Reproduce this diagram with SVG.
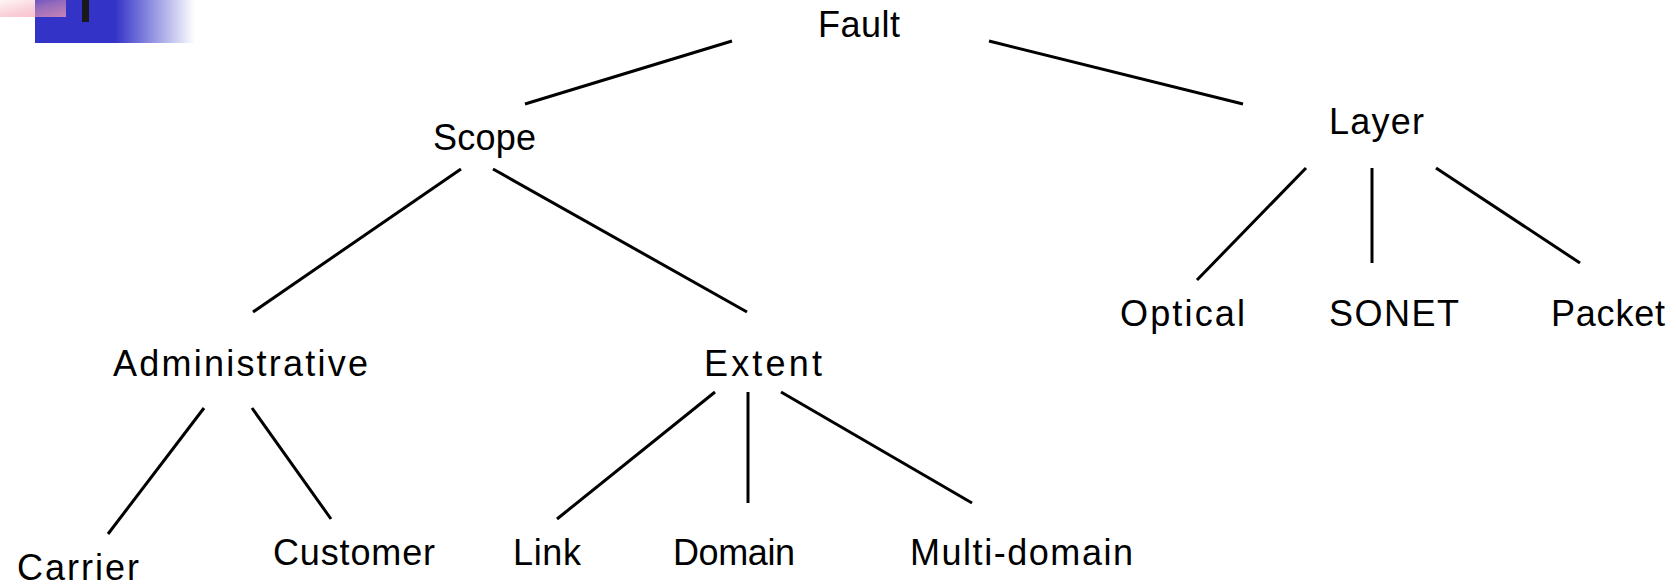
<svg xmlns="http://www.w3.org/2000/svg" width="1676" height="588" viewBox="0 0 1676 588">
  <style>
    .lbl { font-family: "Liberation Sans Narrow", "Liberation Sans", Arial, sans-serif; font-size: 36px; fill: #000; }
    .edge { stroke: #000; stroke-width: 3; stroke-linecap: butt; fill: none; }
  </style>
  <defs>
    <linearGradient id="blueFade" x1="0" y1="0" x2="1" y2="0">
      <stop offset="0" stop-color="#3333c8"/>
      <stop offset="0.5" stop-color="#3333c8"/>
      <stop offset="1" stop-color="#3333c8" stop-opacity="0"/>
    </linearGradient>
    <linearGradient id="pinkFade" x1="0" y1="0" x2="1" y2="1">
      <stop offset="0" stop-color="#f5a0b0" stop-opacity="0.1"/>
      <stop offset="0.5" stop-color="#f5a0b0" stop-opacity="0.5"/>
      <stop offset="1" stop-color="#f5a0b0" stop-opacity="0.75"/>
    </linearGradient>
  </defs>

  <!-- corner ornament -->
  <g id="ornament">
    <rect x="35" y="0" width="160" height="43" fill="url(#blueFade)"/>
    <rect x="0" y="0" width="66" height="17" fill="url(#pinkFade)"/>
    <rect x="82" y="0" width="7" height="22" fill="#1a1a1a"/>
  </g>

  <!-- tree edges -->
  <g id="connectors">
    <line class="edge" x1="732" y1="41" x2="525" y2="104"/>
    <line class="edge" x1="989" y1="41" x2="1243" y2="104"/>
    <line class="edge" x1="461" y1="169" x2="253" y2="312"/>
    <line class="edge" x1="493" y1="169" x2="747" y2="312"/>
    <line class="edge" x1="1306" y1="168" x2="1197" y2="280"/>
    <line class="edge" x1="1372" y1="168" x2="1372" y2="263"/>
    <line class="edge" x1="1436" y1="168" x2="1580" y2="263"/>
    <line class="edge" x1="204" y1="408" x2="108" y2="534"/>
    <line class="edge" x1="252" y1="408" x2="331" y2="519"/>
    <line class="edge" x1="715" y1="392" x2="557" y2="519"/>
    <line class="edge" x1="748" y1="392" x2="748" y2="503"/>
    <line class="edge" x1="781" y1="392" x2="972" y2="503"/>
  </g>

  <!-- tree nodes -->
  <g id="fault"><text class="lbl" x="818" y="37" textLength="82" lengthAdjust="spacing">Fault</text></g>
  <g id="scope"><text class="lbl" x="433" y="150" textLength="103" lengthAdjust="spacing">Scope</text></g>
  <g id="layer"><text class="lbl" x="1329" y="134" textLength="95" lengthAdjust="spacing">Layer</text></g>
  <g id="administrative"><text class="lbl" x="113" y="376" textLength="255" lengthAdjust="spacing">Administrative</text></g>
  <g id="extent"><text class="lbl" x="704" y="376" textLength="118" lengthAdjust="spacing">Extent</text></g>
  <g id="optical"><text class="lbl" x="1120" y="326" textLength="125" lengthAdjust="spacing">Optical</text></g>
  <g id="sonet"><text class="lbl" x="1329" y="326" textLength="130" lengthAdjust="spacing">SONET</text></g>
  <g id="packet"><text class="lbl" x="1551" y="326" textLength="114" lengthAdjust="spacing">Packet</text></g>
  <g id="carrier"><text class="lbl" x="17" y="580" textLength="122" lengthAdjust="spacing">Carrier</text></g>
  <g id="customer"><text class="lbl" x="273" y="565" textLength="162" lengthAdjust="spacing">Customer</text></g>
  <g id="link"><text class="lbl" x="513" y="565" textLength="68" lengthAdjust="spacing">Link</text></g>
  <g id="domain"><text class="lbl" x="673" y="565" textLength="122" lengthAdjust="spacing">Domain</text></g>
  <g id="multidomain"><text class="lbl" x="910" y="565" textLength="223" lengthAdjust="spacing">Multi-domain</text></g>
</svg>
